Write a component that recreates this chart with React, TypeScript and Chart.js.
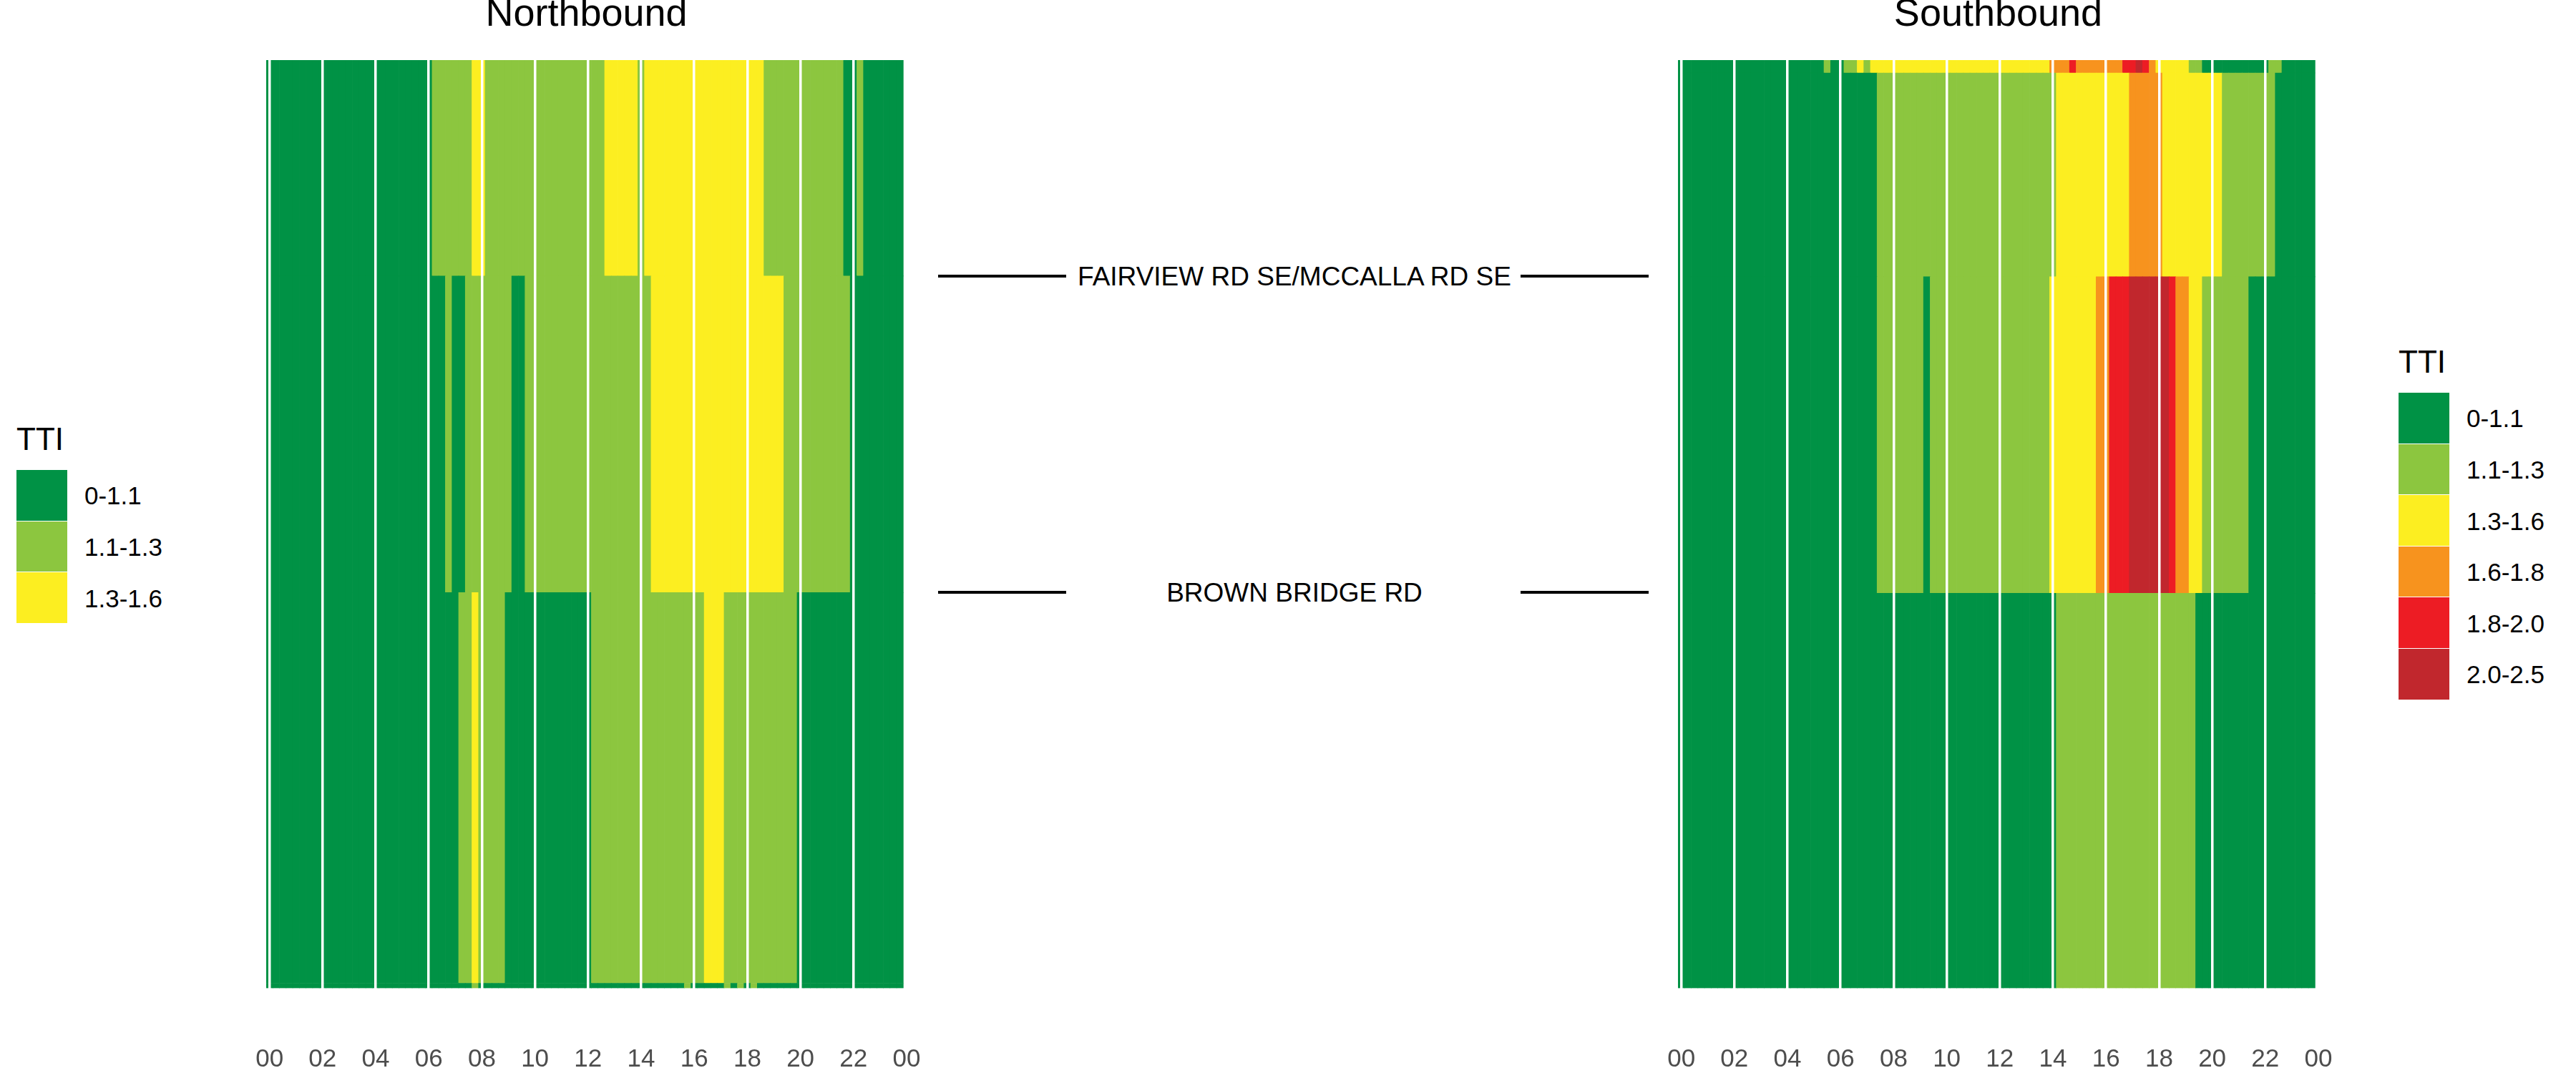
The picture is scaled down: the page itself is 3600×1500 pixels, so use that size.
import React, { useEffect, useRef, useState } from "react";
import { Chart, registerables } from "chart.js";

Chart.register(...registerables);

const FONT = "'Liberation Sans', Arial, Helvetica, sans-serif";

// ---- legend classes ----
const ttiClasses = ["0-1.1", "1.1-1.3", "1.3-1.6", "1.6-1.8", "1.8-2.0", "2.0-2.5"];
const ttiColors = ["#009245", "#8CC63F", "#FCEE21", "#F7931E", "#ED1C24", "#C1272D"];
const nbLegendClasses = [0, 1, 2];
const sbLegendClasses = [0, 1, 2, 3, 4, 5];

// ---- x axis ----
const tickHours = [0, 2, 4, 6, 8, 10, 12, 14, 16, 18, 20, 22, 24];
const tickLabels = ["00", "02", "04", "06", "08", "10", "12", "14", "16", "18", "20", "22", "00"];
// 15-minute bin centres, in hours (axis grid)
const timeBins = Array.from({ length: 96 }, (_, i) => i * 0.25);

// ---- road segments (lengths in miles, listed top to bottom) ----
const nbSegmentMiles = [0.604, 0.885, 1.093, 0.014];
const sbSegmentMiles = [0.036, 0.57, 0.885, 1.105];

// cross streets sit on the boundaries between segments (boundary index)
const crossStreetLabels = ["FAIRVIEW RD SE/MCCALLA RD SE", "BROWN BRIDGE RD"];
const crossStreetBoundary = [1, 2];

// ---- TTI class per 15-min bin (index into ttiClasses), 8 bins = 2 hours per line ----
const nbSeg1 = [
  0, 0, 0, 0, 0, 0, 0, 0,
  0, 0, 0, 0, 0, 0, 0, 0,
  0, 0, 0, 0, 0, 0, 0, 0,
  0, 1, 1, 1, 1, 1, 1, 2,
  2, 1, 1, 1, 1, 1, 1, 1,
  1, 1, 1, 1, 1, 1, 1, 1,
  1, 1, 1, 2, 2, 2, 2, 2,
  1, 2, 2, 2, 2, 2, 2, 2,
  2, 2, 2, 2, 2, 2, 2, 2,
  2, 2, 2, 1, 1, 1, 1, 1,
  1, 1, 1, 1, 1, 1, 1, 0,
  0, 1, 0, 0, 0, 0, 0, 0,
];
const nbSeg2 = [
  0, 0, 0, 0, 0, 0, 0, 0,
  0, 0, 0, 0, 0, 0, 0, 0,
  0, 0, 0, 0, 0, 0, 0, 0,
  0, 0, 0, 1, 0, 0, 1, 1,
  1, 1, 1, 1, 1, 0, 0, 1,
  1, 1, 1, 1, 1, 1, 1, 1,
  1, 1, 1, 1, 1, 1, 1, 1,
  1, 1, 2, 2, 2, 2, 2, 2,
  2, 2, 2, 2, 2, 2, 2, 2,
  2, 2, 2, 2, 2, 2, 1, 1,
  1, 1, 1, 1, 1, 1, 1, 1,
  0, 0, 0, 0, 0, 0, 0, 0,
];
const nbSeg3 = [
  0, 0, 0, 0, 0, 0, 0, 0,
  0, 0, 0, 0, 0, 0, 0, 0,
  0, 0, 0, 0, 0, 0, 0, 0,
  0, 0, 0, 0, 0, 1, 1, 2,
  1, 1, 1, 1, 0, 0, 0, 0,
  0, 0, 0, 0, 0, 0, 0, 0,
  0, 1, 1, 1, 1, 1, 1, 1,
  1, 1, 1, 1, 1, 1, 1, 1,
  1, 1, 2, 2, 2, 1, 1, 1,
  1, 1, 1, 1, 1, 1, 1, 1,
  0, 0, 0, 0, 0, 0, 0, 0,
  0, 0, 0, 0, 0, 0, 0, 0,
];
const nbSeg4 = [
  0, 0, 0, 0, 0, 0, 0, 0,
  0, 0, 0, 0, 0, 0, 0, 0,
  0, 0, 0, 0, 0, 0, 0, 0,
  0, 0, 0, 0, 0, 0, 0, 1,
  0, 0, 0, 0, 0, 0, 0, 0,
  0, 0, 0, 0, 0, 0, 0, 0,
  0, 0, 0, 0, 0, 0, 0, 0,
  0, 0, 0, 0, 0, 0, 0, 1,
  0, 0, 0, 0, 0, 1, 0, 1,
  0, 1, 0, 0, 0, 0, 0, 0,
  0, 0, 0, 0, 0, 0, 0, 0,
  0, 0, 0, 0, 0, 0, 0, 0,
];

const sbSeg1 = [
  0, 0, 0, 0, 0, 0, 0, 0,
  0, 0, 0, 0, 0, 0, 0, 0,
  0, 0, 0, 0, 0, 0, 1, 0,
  0, 1, 1, 2, 1, 2, 2, 2,
  2, 2, 2, 2, 2, 2, 2, 2,
  2, 2, 2, 2, 2, 2, 2, 2,
  2, 2, 2, 2, 2, 2, 2, 2,
  3, 3, 3, 4, 3, 3, 3, 3,
  3, 3, 3, 4, 4, 5, 4, 3,
  2, 2, 2, 2, 2, 1, 1, 0,
  0, 0, 0, 0, 0, 0, 0, 0,
  0, 1, 1, 0, 0, 0, 0, 0,
];
const sbSeg2 = [
  0, 0, 0, 0, 0, 0, 0, 0,
  0, 0, 0, 0, 0, 0, 0, 0,
  0, 0, 0, 0, 0, 0, 0, 0,
  0, 0, 0, 0, 0, 0, 1, 1,
  1, 1, 1, 1, 1, 1, 1, 1,
  1, 1, 1, 1, 1, 1, 1, 1,
  1, 1, 1, 1, 1, 1, 1, 1,
  1, 2, 2, 2, 2, 2, 2, 2,
  2, 2, 2, 2, 3, 3, 3, 3,
  3, 2, 2, 2, 2, 2, 2, 2,
  2, 2, 1, 1, 1, 1, 1, 1,
  1, 1, 0, 0, 0, 0, 0, 0,
];
const sbSeg3 = [
  0, 0, 0, 0, 0, 0, 0, 0,
  0, 0, 0, 0, 0, 0, 0, 0,
  0, 0, 0, 0, 0, 0, 0, 0,
  0, 0, 0, 0, 0, 0, 1, 1,
  1, 1, 1, 1, 1, 0, 1, 1,
  1, 1, 1, 1, 1, 1, 1, 1,
  1, 1, 1, 1, 1, 1, 1, 1,
  2, 2, 2, 2, 2, 2, 2, 3,
  3, 4, 4, 4, 5, 5, 5, 5,
  5, 5, 4, 3, 3, 2, 2, 1,
  1, 1, 1, 1, 1, 1, 0, 0,
  0, 0, 0, 0, 0, 0, 0, 0,
];
const sbSeg4 = [
  0, 0, 0, 0, 0, 0, 0, 0,
  0, 0, 0, 0, 0, 0, 0, 0,
  0, 0, 0, 0, 0, 0, 0, 0,
  0, 0, 0, 0, 0, 0, 0, 0,
  0, 0, 0, 0, 0, 0, 0, 0,
  0, 0, 0, 0, 0, 0, 0, 0,
  0, 0, 0, 0, 0, 0, 0, 0,
  0, 1, 1, 1, 1, 1, 1, 1,
  1, 1, 1, 1, 1, 1, 1, 1,
  1, 1, 1, 1, 1, 1, 0, 0,
  0, 0, 0, 0, 0, 0, 0, 0,
  0, 0, 0, 0, 0, 0, 0, 0,
];

const nbSegments = [nbSeg1, nbSeg2, nbSeg3, nbSeg4];
const sbSegments = [sbSeg1, sbSeg2, sbSeg3, sbSeg4];

// ---- layout ----
const CANVAS_TOP = -6;
const CANVAS_W = 975;
const CANVAS_H = 1508;
const NB_LEFT = 332;
const SB_LEFT = 2305;

function cumulative(miles: number[]) {
  const out = [0];
  miles.forEach((m) => out.push(out[out.length - 1] + m));
  return out;
}

function makeConfig(titleText: string, segMiles: number[], segClasses: number[][]): any {
  const bounds = cumulative(segMiles);
  const total = bounds[bounds.length - 1];
  const data: any[] = [];
  const colors: string[] = [];
  segClasses.forEach((row, s) => {
    row.forEach((c, k) => {
      data.push({ x: timeBins[k], y: [bounds[s], bounds[s + 1]] });
      colors.push(ttiColors[c]);
    });
  });
  return {
    type: "bar",
    data: {
      datasets: [
        {
          data,
          backgroundColor: colors,
          borderWidth: 0,
          barPercentage: 1,
          categoryPercentage: 1,
          grouped: false,
        },
      ],
    },
    options: {
      animation: false,
      responsive: false,
      maintainAspectRatio: false,
      devicePixelRatio: 1,
      events: [],
      layout: { padding: { left: 40, right: 40, top: 0, bottom: 0 } },
      plugins: {
        legend: { display: false },
        tooltip: { enabled: false },
        title: {
          display: true,
          text: titleText,
          color: "#000000",
          font: { family: FONT, size: 54, weight: "normal", lineHeight: 1 },
          padding: { top: 0, bottom: 36 },
        },
      },
      scales: {
        x: {
          type: "linear",
          bounds: "data",
          min: -0.125,
          max: 24,
          offset: false,
          afterBuildTicks: (axis: any) => {
            axis.ticks = tickHours.map((v) => ({ value: v }));
          },
          ticks: {
            autoSkip: false,
            maxRotation: 0,
            minRotation: 0,
            padding: 0,
            color: "#4D4D4D",
            font: { family: FONT, size: 35, lineHeight: 1.2 },
            callback: (_v: any, i: number) => tickLabels[i],
          },
          grid: {
            color: "#FFFFFF",
            lineWidth: 3.5,
            z: 1,
            offset: false,
            drawTicks: true,
            tickLength: 78.5,
            tickColor: "rgba(255,255,255,0)",
          },
          border: { display: false },
        },
        y: {
          type: "linear",
          display: false,
          bounds: "data",
          min: 0,
          max: total,
          reverse: true,
          grid: { display: false },
        },
      },
    },
  };
}

function Legend({ x, keysTop, classes }: { x: number; keysTop: number; classes: number[] }) {
  const step = 71.6;
  return (
    <>
      <div
        style={{
          position: "absolute",
          left: x,
          top: keysTop - 65.2,
          fontSize: 44,
          lineHeight: "44px",
          color: "#000",
          whiteSpace: "nowrap",
        }}
      >
        TTI
      </div>
      {classes.map((c, i) => (
        <React.Fragment key={c}>
          <div
            style={{
              position: "absolute",
              left: x,
              top: keysTop + i * step,
              width: 71,
              height: step - 1,
              background: ttiColors[c],
            }}
          />
          <div
            style={{
              position: "absolute",
              left: x + 95,
              top: keysTop + i * step + step / 2 - 17.5,
              fontSize: 35,
              lineHeight: "35px",
              color: "#000",
              whiteSpace: "nowrap",
            }}
          >
            {ttiClasses[c]}
          </div>
        </React.Fragment>
      ))}
    </>
  );
}

export default function App() {
  const nbRef = useRef<HTMLCanvasElement | null>(null);
  const sbRef = useRef<HTMLCanvasElement | null>(null);
  const [crossY, setCrossY] = useState<number[]>([]);

  useEffect(() => {
    if (!nbRef.current || !sbRef.current) return;
    const nb = new Chart(nbRef.current, makeConfig("Northbound", nbSegmentMiles, nbSegments));
    const sb = new Chart(sbRef.current, makeConfig("Southbound", sbSegmentMiles, sbSegments));
    const nbBounds = cumulative(nbSegmentMiles);
    setCrossY(
      crossStreetBoundary.map((b) => (nb.scales as any).y.getPixelForValue(nbBounds[b]) + CANVAS_TOP)
    );
    return () => {
      nb.destroy();
      sb.destroy();
    };
  }, []);

  const lineStyle = (left: number, y: number): React.CSSProperties => ({
    position: "absolute",
    left,
    top: y - 2,
    width: 179,
    height: 4,
    background: "#000",
  });

  return (
    <div
      style={{
        position: "absolute",
        left: 0,
        top: 0,
        width: 3600,
        height: 1500,
        overflow: "hidden",
        background: "#FFFFFF",
        fontFamily: FONT,
      }}
    >
      <canvas
        ref={nbRef}
        width={CANVAS_W}
        height={CANVAS_H}
        style={{ position: "absolute", left: NB_LEFT, top: CANVAS_TOP, width: CANVAS_W, height: CANVAS_H }}
      />
      <canvas
        ref={sbRef}
        width={CANVAS_W}
        height={CANVAS_H}
        style={{ position: "absolute", left: SB_LEFT, top: CANVAS_TOP, width: CANVAS_W, height: CANVAS_H }}
      />

      <Legend x={23} keysTop={657} classes={nbLegendClasses} />
      <Legend x={3352} keysTop={549} classes={sbLegendClasses} />

      {crossY.map((y, i) => (
        <React.Fragment key={crossStreetLabels[i]}>
          <div style={lineStyle(1311, y)} />
          <div style={lineStyle(2125, y)} />
          <div
            style={{
              position: "absolute",
              left: 1809,
              top: y,
              transform: "translate(-50%, -50%)",
              fontSize: 37,
              lineHeight: "37px",
              color: "#000",
              whiteSpace: "nowrap",
            }}
          >
            {crossStreetLabels[i]}
          </div>
        </React.Fragment>
      ))}
    </div>
  );
}
